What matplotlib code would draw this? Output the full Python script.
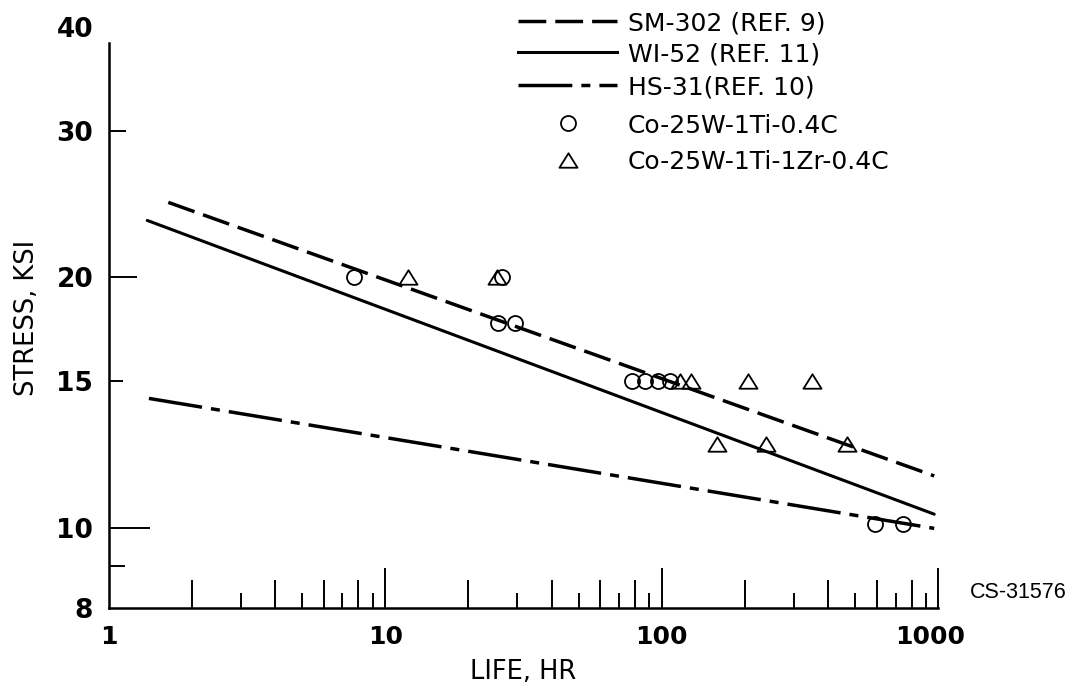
import numpy as np
import matplotlib
matplotlib.use("Agg")
import matplotlib.pyplot as plt
from matplotlib.ticker import FixedLocator, FixedFormatter, NullFormatter
from matplotlib.lines import Line2D
from matplotlib.path import Path
from matplotlib.transforms import ScaledTranslation

# ---------------- data ----------------
sm302_life = [1.645, 965]
sm302_stress = [24.6, 11.54]
wi52_life = [1.381, 965]
wi52_stress = [23.4, 10.38]
hs31_life = [1.40, 965]
hs31_stress = [14.3, 9.98]

circle_life = [7.7, 26.4, 25.6, 29.5, 77.8, 86.9, 97.1, 107, 589, 742]
circle_stress = [20, 20, 17.6, 17.6, 15, 15, 15, 15, 10.1, 10.1]
tri_life = [12.1, 25.3, 116, 128, 205, 348, 158, 237, 466]
tri_stress = [20, 20, 15, 15, 15, 15, 12.6, 12.6, 12.6]

x_major = [1, 10, 100, 1000]
x_major_labels = ["1", "10", "100", "1000"]
x_minor = [m * d for d in (1, 10, 100) for m in range(2, 10)]
y_major = [8, 10, 15, 20, 30, 40]
y_major_labels = ["8", "10", "15", "20", "30", "40"]
y_minor = [9]

legend_labels = ["SM-302 (REF. 9)", "WI-52 (REF. 11)", "HS-31(REF. 10)",
                 "Co-25W-1Ti-0.4C", "Co-25W-1Ti-1Zr-0.4C"]

# ---------------- styles ----------------
W, H = 1075, 685
fig = plt.figure(figsize=(W / 100, H / 100), dpi=100)
fig.patch.set_facecolor("white")
ax = fig.add_axes([108.5 / W, (H - 608.3) / H, 830 / W, (608.3 - 26.7) / H])

dash_sm = (8.0, 2.6)
dash_hs = (15.5, 2.6, 2.6, 2.6)
tri_marker = Path([(-1, -0.8), (1, -0.8), (0, 0.8), (-1, -0.8)],
                  [Path.MOVETO, Path.LINETO, Path.LINETO, Path.CLOSEPOLY])

ax.set_xscale("log")
ax.set_yscale("log")

l1, = ax.plot(sm302_life, sm302_stress, color="black", lw=2.5)
l1.set_dashes(dash_sm)
ax.plot(wi52_life, wi52_stress, color="black", lw=2.2, solid_capstyle="round")
l3, = ax.plot(hs31_life, hs31_stress, color="black", lw=2.5)
l3.set_dashes(dash_hs)

ax.plot(circle_life, circle_stress, ls="none", marker="o", ms=10.8,
        mfc="none", mec="black", mew=1.3)
ax.plot(tri_life, tri_stress, ls="none", marker=tri_marker, ms=13,
        mfc="none", mec="black", mew=1.3)

ax.set_xlim(1, 1000)
ax.set_ylim(8, 40)

for s in ("top", "right"):
    ax.spines[s].set_visible(False)
ax.spines["left"].set_linewidth(1.8)
ax.spines["bottom"].set_linewidth(1.8)
ax.spines["left"].set_bounds(8, 38.2)

ax.xaxis.set_major_locator(FixedLocator(x_major))
ax.xaxis.set_major_formatter(FixedFormatter(x_major_labels))
ax.xaxis.set_minor_locator(FixedLocator(x_minor))
ax.xaxis.set_minor_formatter(NullFormatter())
ax.yaxis.set_major_locator(FixedLocator(y_major))
ax.yaxis.set_major_formatter(FixedFormatter(y_major_labels))
ax.yaxis.set_minor_locator(FixedLocator(y_minor))
ax.yaxis.set_minor_formatter(NullFormatter())

ax.tick_params(which="both", direction="in", width=1.4, color="black")
ax.tick_params(axis="x", which="major", length=29, pad=12, labelsize=18)
ax.tick_params(axis="y", which="major", pad=11, labelsize=19)
for lab in ax.get_xticklabels() + ax.get_yticklabels():
    lab.set_fontweight("bold")
# the "1000" label sits a little left of its tick in the original
last = ax.get_xticklabels()[-1]
last.set_transform(last.get_transform() + ScaledTranslation(-8 / 100, 0, fig.dpi_scale_trans))

# individual tick lengths (points)
for t, v in zip(ax.xaxis.get_major_ticks(), x_major):
    t.tick1line.set_markersize(0 if v == 1 else 29)
for t, v in zip(ax.xaxis.get_minor_ticks(), x_minor):
    mant = int(round(v / 10 ** np.floor(np.log10(v))))
    t.tick1line.set_markersize(20 if mant % 2 == 0 else 10.8)
y_len = {8: 0, 10: 29.5, 15: 10.4, 20: 20, 30: 11.9, 40: 0}
for t, v in zip(ax.yaxis.get_major_ticks(), y_major):
    t.tick1line.set_markersize(y_len[v])
for t in ax.yaxis.get_minor_ticks():
    t.tick1line.set_markersize(11.5)

ax.set_xlabel("LIFE, HR", fontsize=18.5, labelpad=7)
ax.set_ylabel("STRESS, KSI", fontsize=18.5, labelpad=12)

# ---------------- legend (drawn manually) ----------------
def fx(px):
    return px / W

def fy(py):
    return 1 - py / H

key_x0, key_x1, text_x, mark_x = 518.3, 616.7, 628, 568
rows = [20.5, 51.7, 85, 123.3, 159.5]

k1 = Line2D([fx(key_x0), fx(key_x1)], [fy(rows[0])] * 2, transform=fig.transFigure,
            color="black", lw=2.5)
k1.set_dashes(dash_sm)
k2 = Line2D([fx(key_x0), fx(key_x1)], [fy(rows[1])] * 2, transform=fig.transFigure,
            color="black", lw=2.2)
k3 = Line2D([fx(key_x0), fx(key_x1)], [fy(rows[2])] * 2, transform=fig.transFigure,
            color="black", lw=2.5)
k3.set_dashes(dash_hs)
k4 = Line2D([fx(mark_x)], [fy(rows[3])], transform=fig.transFigure, ls="none",
            marker="o", ms=10.8, mfc="none", mec="black", mew=1.3)
k5 = Line2D([fx(mark_x)], [fy(rows[4])], transform=fig.transFigure, ls="none",
            marker=tri_marker, ms=13, mfc="none", mec="black", mew=1.3)
for k in (k1, k2, k3, k4, k5):
    fig.add_artist(k)

for lab, r in zip(legend_labels, rows):
    fig.text(fx(text_x), fy(r), lab, fontsize=18, ha="left", va="center_baseline")

fig.text(fx(970), fy(593), "CS-31576", fontsize=15.5, family="Liberation Sans",
         ha="left", va="center")

fig.savefig("out.png", dpi=100, facecolor="white")
